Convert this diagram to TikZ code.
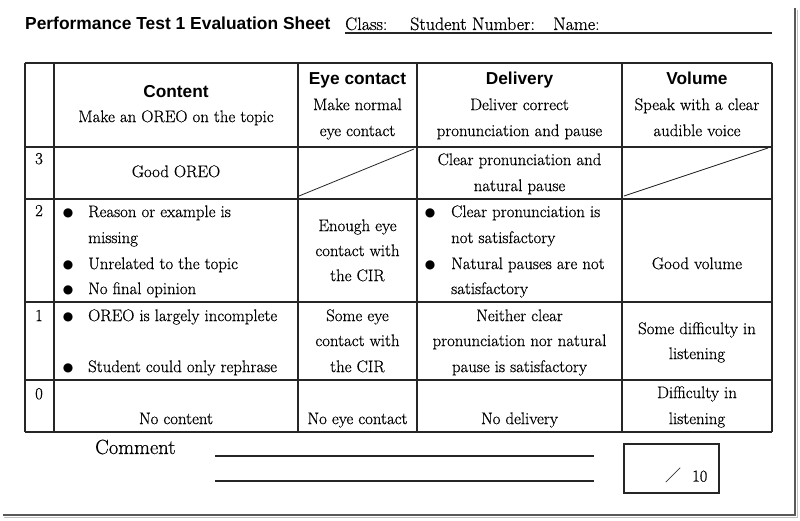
\documentclass[tikz,border=0pt]{standalone}
\usepackage{fontspec}
\setmainfont{Latin Modern Roman}[RawFeature={embolden=0.6}]
\newfontfamily\headfont{Liberation Sans}
\newfontfamily\symfont{DejaVu Sans}
\newfontfamily\cjkfont{Noto Sans CJK JP}
\begin{document}
\begin{tikzpicture}[x=1pt,y=-1pt,
  gridline/.style={line width=1.2pt, draw=black!85},
  body/.style={font=\fontsize{16.8}{18}\selectfont, inner sep=0pt, text height=11.5pt, text depth=3.3pt},
  item/.style={body, anchor=west},
  head/.style={font=\headfont\bfseries\fontsize{17.3}{20}\selectfont, inner sep=0pt, text height=12.5pt, text depth=3.5pt},
  bul/.style={font=\symfont\fontsize{12}{12}\selectfont, inner sep=0pt},
  lbl/.style={font=\fontsize{18}{20}\selectfont, inner sep=0pt, anchor=base west},
  shadow/.style={line width=2.6pt, draw=black!65},
  shadowsoft/.style={line width=1.5pt, draw=black!25}]
\useasboundingbox (0,0) rectangle (800,521);
\fill[white] (0,0) rectangle (800,521);
% page shadow
\draw[shadowsoft] (4,517.5) -- (797.5,517.5) -- (797.5,10);
\draw[shadow] (3,515) -- (795,515) -- (795,8);

% title line
\node[font=\headfont\bfseries\fontsize{17.4}{20}\selectfont, inner sep=0pt, anchor=base west] (title) at (25,30) {Performance Test 1 Evaluation Sheet};
\node[lbl] (cls) at (345,30) {Class:};
\node[lbl] (stn) at (410,30) {Student Number:};
\node[lbl] (nam) at (553,30) {Name:};
\coordinate (ulA) at (345,33);
\coordinate (ulB) at (772,33);
\draw[line width=1.2pt, black!85] (ulA) -- (ulB);

% table grid
\foreach \x in {25,54,298,417,622,772} \draw[gridline] (\x,63) -- (\x,432);
\foreach \y in {63,147,199,302,380,432} \draw[gridline] (25,\y) -- (772,\y);

% header row
\node[head] (hC) at (176,93) {Content};
\node[body] (hC1) at (176,118) {Make an OREO on the topic};
\node[head] (hE) at (357.5,80) {Eye contact};
\node[body] (hE1) at (357.5,106) {Make normal};
\node[body] (hE2) at (357.5,132) {eye contact};
\node[head] (hD) at (519.5,80) {Delivery};
\node[body] (hD1) at (519.5,106) {Deliver correct};
\node[body] (hD2) at (519.5,132) {pronunciation and pause};
\node[head] (hV) at (697,80) {Volume};
\node[body] (hV1) at (697,106) {Speak with a clear};
\node[body] (hV2) at (697,132) {audible voice};

% row 3
\node[body] (n3) at (39,160) {3};
\node[body] (c3) at (176,173) {Good OREO};
\coordinate (e3a) at (299,196);
\coordinate (e3b) at (414,149);
\draw[line width=0.8pt, black!85] (e3a) -- (e3b);
\node[body] (d3a) at (519.5,161) {Clear pronunciation and};
\node[body] (d3b) at (519.5,187) {natural pause};
\coordinate (v3a) at (624,196);
\coordinate (v3b) at (768,148);
\draw[line width=0.8pt, black!85] (v3a) -- (v3b);

% row 2
\node[body] (n2) at (39,212) {2};
\node[bul] (b2a) at (68,213) {●};
\node[item] (c2a) at (88,213) {Reason or example is};
\node[item] (c2b) at (88,239) {missing};
\node[bul] (b2b) at (68,265) {●};
\node[item] (c2c) at (88,265) {Unrelated to the topic};
\node[bul] (b2c) at (68,290) {●};
\node[item] (c2d) at (88,290) {No final opinion};
\node[body] (e2a) at (357.5,227) {Enough eye};
\node[body] (e2b) at (357.5,252) {contact with};
\node[body] (e2c) at (357.5,277) {the CIR};
\node[bul] (bd2a) at (430,213) {●};
\node[item] (d2a) at (451,213) {Clear pronunciation is};
\node[item] (d2b) at (451,239) {not satisfactory};
\node[bul] (bd2b) at (430,265) {●};
\node[item] (d2c) at (451,265) {Natural pauses are not};
\node[item] (d2d) at (451,290) {satisfactory};
\node[body] (v2) at (697,265) {Good volume};

% row 1
\node[body] (n1) at (39,317) {1};
\node[bul] (b1a) at (68,317) {●};
\node[item] (c1a) at (88,317) {OREO is largely incomplete};
\node[bul] (b1b) at (68,368) {●};
\node[item] (c1b) at (88,368) {Student could only rephrase};
\node[body] (e1a) at (357.5,317) {Some eye};
\node[body] (e1b) at (357.5,342) {contact with};
\node[body] (e1c) at (357.5,368) {the CIR};
\node[body] (d1a) at (519.5,317) {Neither clear};
\node[body] (d1b) at (519.5,342) {pronunciation nor natural};
\node[body] (d1c) at (519.5,368) {pause is satisfactory};
\node[body] (v1a) at (697,330) {Some difficulty in};
\node[body] (v1b) at (697,355) {listening};

% row 0
\node[body] (n0) at (39,395) {0};
\node[body] (c0) at (176,420) {No content};
\node[body] (e0) at (357.5,420) {No eye contact};
\node[body] (d0) at (519.5,420) {No delivery};
\node[body] (v0a) at (697,394) {Difficulty in};
\node[body] (v0b) at (697,420) {listening};

% comment
\node[font=\fontsize{20.5}{22}\selectfont, inner sep=0pt, anchor=base west] (cmt) at (95,454) {Comment};
\coordinate (l1a) at (215,456);
\coordinate (l1b) at (594,456);
\coordinate (l2a) at (215,481);
\coordinate (l2b) at (594,481);
\draw[line width=1.1pt, black!85] (l1a) -- (l1b);
\draw[line width=1.1pt, black!85] (l2a) -- (l2b);

% score box
\node[draw=black!85, line width=1.2pt, minimum width=95pt, minimum height=49pt, inner sep=0pt] (score) at (671.5,468.5) {};
\node[font=\cjkfont\fontsize{16}{16}\selectfont, inner sep=0pt] (slash) at (673,475) {／};
\node[font=\fontsize{16.5}{17}\selectfont, inner sep=0pt, anchor=base west] (ten) at (692,481.5) {10};
\end{tikzpicture}
\end{document}
